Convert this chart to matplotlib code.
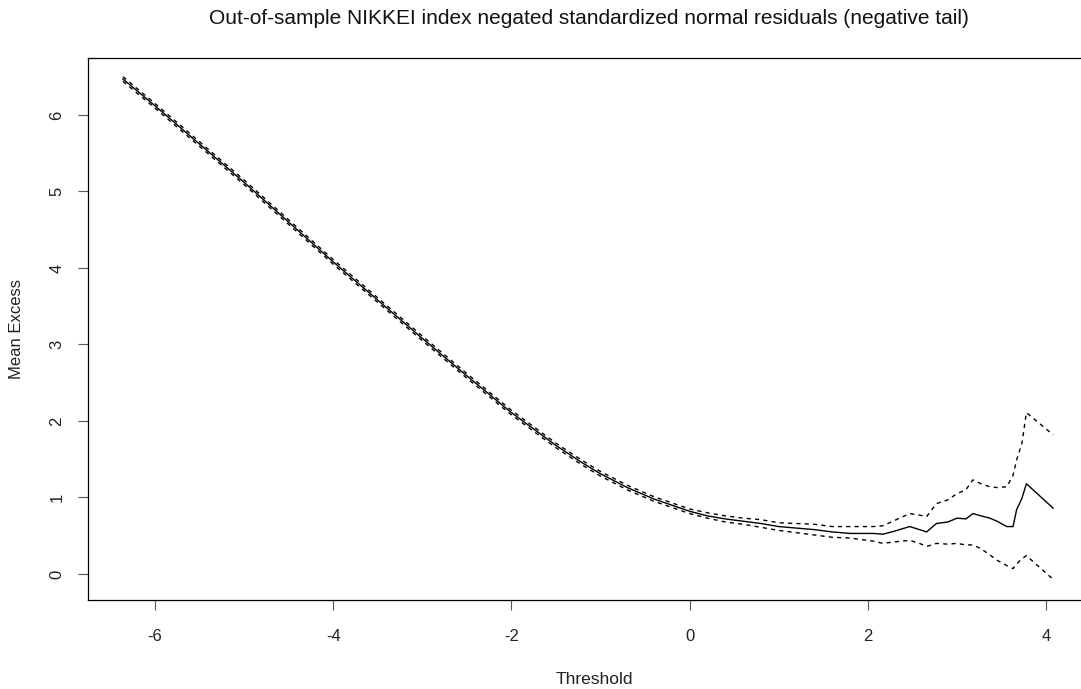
import matplotlib
matplotlib.use("Agg")
import matplotlib.pyplot as plt

# thresholds and mean excess with confidence bounds
threshold = [-6.36, -6.0, -5.5, -5.0, -4.5, -4.0, -3.5, -3.0, -2.5, -2.0,
             -1.5, -1.2, -1.0, -0.7, -0.4, -0.2, 0.0, 0.2, 0.4, 0.6,
             0.8, 1.0, 1.2, 1.4, 1.6, 1.8, 2.06, 2.17, 2.3, 2.47,
             2.58, 2.66, 2.77, 2.9, 3.0, 3.1, 3.18, 3.27, 3.37, 3.45,
             3.56, 3.63, 3.67, 3.73, 3.78, 4.08]
mean_excess = [6.47, 6.12, 5.62, 5.12, 4.60, 4.08, 3.58, 3.08, 2.59, 2.11,
               1.68, 1.45, 1.31, 1.13, 0.98, 0.90, 0.82, 0.76, 0.72, 0.69,
               0.66, 0.62, 0.60, 0.58, 0.55, 0.53, 0.53, 0.52, 0.56, 0.62,
               0.58, 0.55, 0.66, 0.68, 0.73, 0.72, 0.79, 0.76, 0.73, 0.69,
               0.62, 0.62, 0.84, 0.99, 1.18, 0.86]
lower = [6.44, 6.09, 5.59, 5.09, 4.57, 4.05, 3.55, 3.05, 2.56, 2.08,
         1.65, 1.42, 1.28, 1.10, 0.95, 0.87, 0.79, 0.73, 0.68, 0.65,
         0.61, 0.57, 0.54, 0.51, 0.48, 0.47, 0.43, 0.40, 0.42, 0.44,
         0.40, 0.36, 0.40, 0.39, 0.40, 0.38, 0.38, 0.33, 0.25, 0.18,
         0.11, 0.07, 0.13, 0.20, 0.24, -0.07]
upper = [6.50, 6.15, 5.65, 5.15, 4.63, 4.11, 3.61, 3.11, 2.62, 2.14,
         1.71, 1.48, 1.34, 1.16, 1.01, 0.93, 0.85, 0.80, 0.76, 0.73,
         0.71, 0.67, 0.66, 0.65, 0.62, 0.62, 0.62, 0.63, 0.70, 0.79,
         0.77, 0.75, 0.92, 0.97, 1.05, 1.10, 1.23, 1.18, 1.14, 1.13,
         1.14, 1.29, 1.49, 1.71, 2.11, 1.82]

x_ticks = [-6, -4, -2, 0, 2, 4]
y_ticks = [0, 1, 2, 3, 4, 5, 6]

plt.rcParams["font.family"] = ["Liberation Sans", "DejaVu Sans"]

fig = plt.figure(figsize=(10.81, 6.89), dpi=100)
# the plot box runs past the right edge of the image, as in the reference
ax = fig.add_axes([88 / 1081, 1 - 600 / 689, 1012 / 1081, 542 / 689])

ax.plot(threshold, mean_excess, color="black", linewidth=1.0)
ax.plot(threshold, lower, color="black", linewidth=1.0, dashes=(3, 3))
ax.plot(threshold, upper, color="black", linewidth=1.0, dashes=(3, 3))

ax.set_xlim(-6.752, 4.606)
ax.set_ylim(-0.34, 6.745)
ax.set_xticks(x_ticks)
ax.set_yticks(y_ticks)
ax.set_xticklabels([str(v) for v in x_ticks])
ax.set_yticklabels([str(v) for v in y_ticks], rotation=90, va="center")

ax.tick_params(axis="both", length=7, width=0.8, color="#555555",
               labelsize=12, labelcolor="#222222")
ax.tick_params(axis="x", pad=14)
ax.tick_params(axis="y", pad=10)
for spine in ax.spines.values():
    spine.set_color("black")
    spine.set_linewidth(0.9)
ax.spines["right"].set_visible(False)

ax.set_xlabel("Threshold", fontsize=12.5, color="#222222", labelpad=20)
ax.set_ylabel("Mean Excess", fontsize=12, color="#222222", labelpad=18)
fig.text(589 / 1081, 1 - 18 / 689,
         "Out-of-sample NIKKEI index negated standardized normal residuals (negative tail)",
         ha="center", va="center", fontsize=15, color="#111111")

fig.savefig("out.png", dpi=100)
